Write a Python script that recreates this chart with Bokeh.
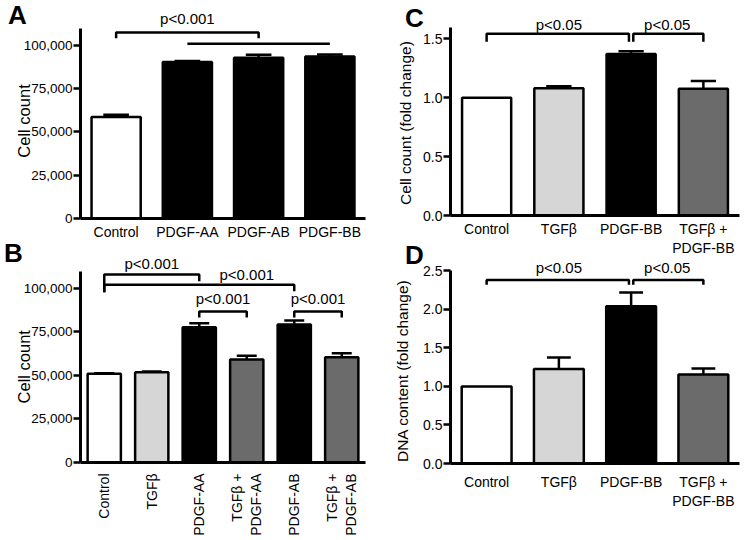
import math
from bokeh.plotting import figure
from bokeh.models import Range1d, FixedTicker, NumeralTickFormatter, Div
from bokeh.layouts import row, column
from bokeh.embed import file_html
from bokeh.resources import INLINE
from bokeh.core.properties import value

FONT = "Liberation Sans"
NB = "\u00a0"

# ---------------- data ----------------
# Panel A
a_categories = ["Control", "PDGF-AA", "PDGF-AB", "PDGF-BB"]
a_values = [58600, 90400, 92900, 93600]
a_errors = [1400, 600, 1700, 1200]
a_colors = ["#ffffff", "#000000", "#000000", "#000000"]
a_yticks = [0, 25000, 50000, 75000, 100000]
# brackets: x0, x1, y, y at left end, y at right end
a_br_x0 = [0, 1]
a_br_x1 = [2, 3]
a_br_y = [107500, 101000]
a_br_yl = [104200, 101000]
a_br_yr = [104200, 101000]
a_p_text = ["p<0.001"]
a_p_x = [1.0]
a_p_y = [115600]

# Panel B
b_categories = ["Control", "TGFβ", "PDGF-AA", "TGFβ +\nPDGF-AA", "PDGF-AB", "TGFβ +\nPDGF-AB"]
b_values = [51000, 51900, 77800, 59200, 79300, 60500]
b_errors = [300, 400, 2200, 2100, 2300, 2300]
b_colors = ["#ffffff", "#d6d6d6", "#000000", "#6b6b6b", "#000000", "#6b6b6b"]
b_yticks = [0, 25000, 50000, 75000, 100000]
b_br_x0 = [0, 0, 2, 4]
b_br_x1 = [2, 4, 3, 5]
b_br_y = [108000, 102100, 86800, 86800]
b_br_yl = [97900, 97900, 83300, 83300]
b_br_yr = [104200, 98400, 83300, 83300]
b_p_text = ["p<0.001", "p<0.001", "p<0.001", "p<0.001"]
b_p_x = [1.0, 3.0, 2.5, 4.5]
b_p_y = [114400, 108000, 94300, 94300]

# Panel C
c_categories = ["Control", "TGFβ", "PDGF-BB", "TGFβ +\nPDGF-BB"]
c_values = [1.0, 1.08, 1.37, 1.075]
c_errors = [0.0, 0.018, 0.025, 0.066]
c_colors = ["#ffffff", "#d6d6d6", "#000000", "#6b6b6b"]
c_yticks = [0.0, 0.5, 1.0, 1.5]
c_br_x0 = [0, 2.03]
c_br_x1 = [1.97, 3]
c_br_y = [1.542, 1.542]
c_br_yl = [1.475, 1.475]
c_br_yr = [1.475, 1.475]
c_p_text = ["p<0.05", "p<0.05"]
c_p_x = [1.0, 2.5]
c_p_y = [1.625, 1.625]

# Panel D
d_categories = ["Control", "TGFβ", "PDGF-BB", "TGFβ +\nPDGF-BB"]
d_values = [1.0, 1.225, 2.04, 1.156]
d_errors = [0.0, 0.152, 0.18, 0.078]
d_colors = ["#ffffff", "#d6d6d6", "#000000", "#6b6b6b"]
d_yticks = [0.0, 0.5, 1.0, 1.5, 2.0, 2.5]
d_br_x0 = [0, 2.03]
d_br_x1 = [1.97, 3]
d_br_y = [2.38, 2.38]
d_br_yl = [2.32, 2.32]
d_br_yr = [2.32, 2.32]
d_p_text = ["p<0.05", "p<0.05"]
d_p_x = [1.0, 2.5]
d_p_y = [2.55, 2.55]

panel_letters = ["A", "B", "C", "D"]
y_labels = ["Cell count", "Cell count", "Cell count (fold change)",
            "DNA content (fold change)"]


def make_panel(categories, values, errors, colors, yticks, fmt, ylabel,
               br_x0, br_x1, br_y, br_yl, br_yr, p_text, p_x, p_y,
               width, height, borders, y_end, y_bound,
               bar_width, cap_width, ylabel_size, ylabel_standoff,
               xlabel_orient, xlabel_standoff, ytick_size):
    n = len(categories)
    xs = list(range(n))
    left, right, top, bottom = borders
    p = figure(width=width, height=height, output_backend="svg",
               toolbar_location=None, x_range=Range1d(-0.5, n - 0.5),
               y_range=Range1d(0, y_end), min_border_left=left,
               min_border_right=right, min_border_top=top,
               min_border_bottom=bottom)
    p.outline_line_color = None
    p.background_fill_color = None
    p.border_fill_color = None
    p.xgrid.visible = False
    p.ygrid.visible = False

    p.vbar(x=xs, top=values, width=bar_width, fill_color=colors,
           line_color="black", line_width=2.5)
    ex = [x for x, e in zip(xs, errors) if e > 0]
    ev = [v for v, e in zip(values, errors) if e > 0]
    et = [v + e for v, e in zip(values, errors) if e > 0]
    p.segment(x0=ex, y0=ev, x1=ex, y1=et, line_color="black", line_width=2.5)
    p.segment(x0=[x - cap_width / 2 for x in ex], y0=et,
              x1=[x + cap_width / 2 for x in ex], y1=et,
              line_color="black", line_width=2.5)

    bxs = [[a, a, b, b] for a, b in zip(br_x0, br_x1)]
    bys = [[yl, y, y, yr] for y, yl, yr in zip(br_y, br_yl, br_yr)]
    p.multi_line(xs=bxs, ys=bys, line_color="black", line_width=2.5)
    p.text(x=p_x, y=p_y, text=p_text, text_align="center",
           text_baseline="middle", text_font=value(FONT),
           text_font_size="15px", text_color="black")

    for ax in (p.xaxis, p.yaxis):
        ax.axis_line_width = 3
        ax.axis_line_color = "black"
        ax.major_label_text_font = FONT
        ax.major_label_text_color = "black"
        ax.minor_tick_line_color = None
    p.xaxis.major_label_text_font_size = "14px"
    p.yaxis.major_label_text_font_size = ytick_size
    p.xaxis.ticker = FixedTicker(ticks=xs)
    p.xaxis.major_label_overrides = {i: c for i, c in enumerate(categories)}
    p.xaxis.major_tick_line_color = None
    p.xaxis.major_tick_out = 0
    p.xaxis.major_tick_in = 0
    p.xaxis.major_label_standoff = xlabel_standoff
    p.xaxis.major_label_orientation = xlabel_orient

    p.yaxis.ticker = FixedTicker(ticks=yticks)
    p.yaxis.formatter = NumeralTickFormatter(format=fmt)
    p.yaxis.bounds = (0, y_bound)
    p.yaxis.major_tick_out = 7
    p.yaxis.major_tick_in = 0
    p.yaxis.major_tick_line_width = 2.5
    p.yaxis.major_tick_line_color = "black"
    p.yaxis.major_label_standoff = 1
    p.yaxis.axis_label = ylabel
    p.yaxis.axis_label_text_font = FONT
    p.yaxis.axis_label_text_font_style = "normal"
    p.yaxis.axis_label_text_font_size = ylabel_size
    p.yaxis.axis_label_text_color = "black"
    p.yaxis.axis_label_standoff = ylabel_standoff
    return p


def letter_div(letter, left, top, margin):
    html = ('<div style="position:relative;left:%dpx;top:%dpx;'
            "font-family:'Liberation Sans';font-size:26px;font-weight:bold;"
            'line-height:1;color:black">%s</div>' % (left, top, letter))
    return Div(text=html, width=40, height=30, margin=margin)


# trailing no-break spaces centre the visible label on the bounded axis
pA = make_panel(a_categories, a_values, a_errors, a_colors, a_yticks, "0,0",
                y_labels[0] + NB * 5, a_br_x0, a_br_x1, a_br_y, a_br_yl, a_br_yr,
                a_p_text, a_p_x, a_p_y, 370, 243,
                (80, 1, 0, 25), 126010, 110000, 0.69, 0.36, "16.5px", -12,
                "horizontal", 5, "13.5px")
pB = make_panel(b_categories, b_values, b_errors, b_colors, b_yticks, "0,0",
                y_labels[1] + NB * 6, b_br_x0, b_br_x1, b_br_y, b_br_yl, b_br_yr,
                b_p_text, b_p_x, b_p_y, 370, 297,
                (80, 5, 0, 78), 125860, 110000, 0.70, 0.42, "16.5px", -12,
                math.pi / 2, 11, "13.5px")
pC = make_panel(c_categories, c_values, c_errors, c_colors, c_yticks, "0.0",
                y_labels[2] + NB * 7, c_br_x0, c_br_x1, c_br_y, c_br_yl,
                c_br_yr, c_p_text, c_p_x, c_p_y, 375, 258,
                (80, 6, 0, 39), 1.825, 1.6, 0.68, 0.35, "15.5px", 6,
                "horizontal", 5, "14px")
pD = make_panel(d_categories, d_values, d_errors, d_colors, d_yticks, "0.0",
                y_labels[3] + NB * 8, d_br_x0, d_br_x1, d_br_y, d_br_yl,
                d_br_yr, d_p_text, d_p_x, d_p_y, 375, 297,
                (80, 6, 0, 77), 2.855, 2.5, 0.69, 0.33, "15.5px", 9,
                "horizontal", 10, "14px")

divA = letter_div(panel_letters[0], 8, 2, (0, 0, -30, 0))
divB = letter_div(panel_letters[1], 4, -3, (0, 0, -30, 0))
divC = letter_div(panel_letters[2], 35, 5, (0, 0, -30, 0))
divD = letter_div(panel_letters[3], 35, -1, (-15, 0, -30, 0))

layout = row(column(divA, pA, divB, pB), column(divC, pC, divD, pD))

with open("out.html", "w") as f:
    f.write(file_html(layout, INLINE))
